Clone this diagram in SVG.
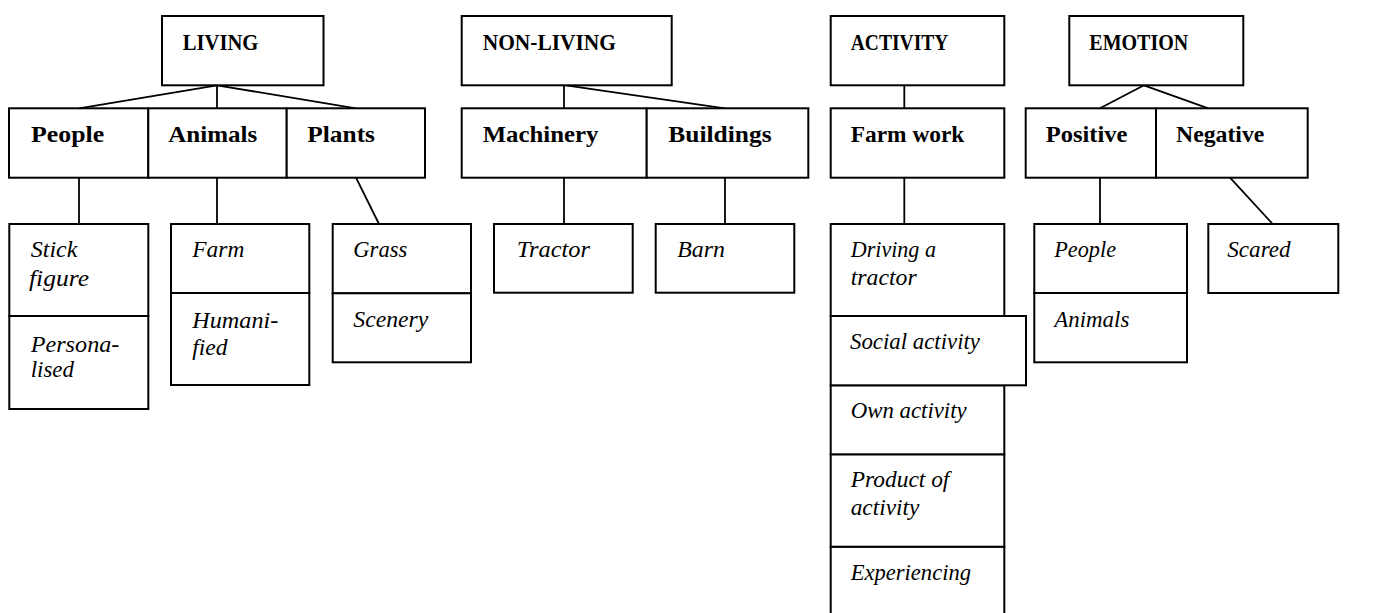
<svg xmlns="http://www.w3.org/2000/svg" width="1376" height="613" viewBox="0 0 1376 613">
<style>
rect{fill:#fff;stroke:#000;stroke-width:2}
.c line{stroke:#000;stroke-width:1.8}
text{font-family:"Liberation Serif","Times New Roman",serif;font-size:23.5px;fill:#000}
.b{font-weight:bold;font-size:23px}
.i{font-style:italic}
</style>
<rect x="0" y="0" width="1376" height="613" style="stroke:none"/>
<g class="c" id="connectors">
<line x1="217" y1="85.3" x2="79" y2="108.3"/>
<line x1="217" y1="85.3" x2="217" y2="108.3"/>
<line x1="217" y1="85.3" x2="356" y2="108.3"/>
<line x1="79" y1="177.7" x2="79" y2="224"/>
<line x1="217" y1="177.7" x2="217" y2="224"/>
<line x1="356" y1="177.7" x2="379" y2="224"/>
<line x1="564" y1="85.3" x2="564" y2="108.3"/>
<line x1="566" y1="85.3" x2="725" y2="108.3"/>
<line x1="564" y1="177.7" x2="564" y2="224"/>
<line x1="725" y1="177.7" x2="725" y2="224"/>
<line x1="904.3" y1="85.3" x2="904.3" y2="108.3"/>
<line x1="904.3" y1="177.7" x2="904.3" y2="224"/>
<line x1="1144" y1="85.3" x2="1100" y2="108.3"/>
<line x1="1144" y1="85.3" x2="1208.3" y2="108.3"/>
<line x1="1100" y1="177.7" x2="1100" y2="224"/>
<line x1="1230" y1="177.7" x2="1272.7" y2="224"/>
</g>
<g id="living"><rect x="162" y="16" width="161.5" height="69.3"/><text class="b" x="182.7" y="50" textLength="75.7" lengthAdjust="spacingAndGlyphs">LIVING</text></g>
<g id="people"><rect x="9" y="108.3" width="139.3" height="69.4"/><text class="b" x="31" y="141.7" textLength="73.3" lengthAdjust="spacingAndGlyphs">People</text></g>
<g id="animals"><rect x="148.3" y="108.3" width="138.4" height="69.4"/><text class="b" x="168.3" y="141.7" textLength="89" lengthAdjust="spacingAndGlyphs">Animals</text></g>
<g id="plants"><rect x="286.7" y="108.3" width="138.3" height="69.4"/><text class="b" x="307.3" y="141.7" textLength="67.7" lengthAdjust="spacingAndGlyphs">Plants</text></g>
<g id="stick"><rect x="9.3" y="224" width="139" height="92"/><text class="i" x="30.7" y="257.3" textLength="46.7" lengthAdjust="spacingAndGlyphs">Stick</text><text class="i" x="29" y="286" textLength="60" lengthAdjust="spacingAndGlyphs">figure</text></g>
<g id="personalised"><rect x="9.3" y="316" width="139" height="93"/><text class="i" x="30.7" y="351.7" textLength="88.7" lengthAdjust="spacingAndGlyphs">Persona-</text><text class="i" x="30.7" y="376.7" textLength="43.3" lengthAdjust="spacingAndGlyphs">lised</text></g>
<g id="farm"><rect x="171" y="224" width="138.3" height="69"/><text class="i" x="192.3" y="256.7" textLength="52" lengthAdjust="spacingAndGlyphs">Farm</text></g>
<g id="humanified"><rect x="171" y="293" width="138.3" height="92"/><text class="i" x="192.3" y="328.3" textLength="86" lengthAdjust="spacingAndGlyphs">Humani-</text><text class="i" x="192.3" y="355" textLength="35.3" lengthAdjust="spacingAndGlyphs">fied</text></g>
<g id="grass"><rect x="332.7" y="224" width="138.3" height="69.3"/><text class="i" x="353.3" y="256.7" textLength="54" lengthAdjust="spacingAndGlyphs">Grass</text></g>
<g id="scenery"><rect x="332.7" y="293.3" width="138.3" height="69"/><text class="i" x="353.3" y="326.7" textLength="75" lengthAdjust="spacingAndGlyphs">Scenery</text></g>
<g id="nonliving"><rect x="461.7" y="16" width="210" height="69.3"/><text class="b" x="482.7" y="50" textLength="133.3" lengthAdjust="spacingAndGlyphs">NON-LIVING</text></g>
<g id="machinery"><rect x="461.7" y="108.3" width="185" height="69.4"/><text class="b" x="482.7" y="141.7" textLength="115.7" lengthAdjust="spacingAndGlyphs">Machinery</text></g>
<g id="buildings"><rect x="646.7" y="108.3" width="161.6" height="69.4"/><text class="b" x="668.3" y="141.7" textLength="103.3" lengthAdjust="spacingAndGlyphs">Buildings</text></g>
<g id="tractor"><rect x="494" y="224" width="138.7" height="68.7"/><text class="i" x="516.7" y="256.7" textLength="73.3" lengthAdjust="spacingAndGlyphs">Tractor</text></g>
<g id="barn"><rect x="655.7" y="224" width="138.6" height="68.7"/><text class="i" x="677.3" y="256.7" textLength="47.7" lengthAdjust="spacingAndGlyphs">Barn</text></g>
<g id="activity"><rect x="830.7" y="16" width="173.6" height="69.3"/><text class="b" x="850.7" y="50" textLength="97.7" lengthAdjust="spacingAndGlyphs">ACTIVITY</text></g>
<g id="farmwork"><rect x="830.7" y="108.3" width="173.6" height="69.4"/><text class="b" x="850.7" y="141.7" textLength="113.7" lengthAdjust="spacingAndGlyphs">Farm work</text></g>
<g id="experiencing"><rect x="830.7" y="546.7" width="173.6" height="80"/><text class="i" x="850.7" y="580" textLength="120.3" lengthAdjust="spacingAndGlyphs">Experiencing</text></g>
<g id="product"><rect x="830.7" y="454.3" width="173.6" height="92.4"/><text class="i" x="850.7" y="487.3" textLength="98.7" lengthAdjust="spacingAndGlyphs">Product of</text><text class="i" x="850.7" y="515" textLength="68.7" lengthAdjust="spacingAndGlyphs">activity</text></g>
<g id="own"><rect x="830.7" y="385.3" width="173.6" height="69"/><text class="i" x="850.7" y="418.3" textLength="116" lengthAdjust="spacingAndGlyphs">Own activity</text></g>
<g id="driving"><rect x="830.7" y="224" width="173.6" height="92"/><text class="i" x="850.7" y="256.7" textLength="85.3" lengthAdjust="spacingAndGlyphs">Driving a</text><text class="i" x="850.7" y="285" textLength="66" lengthAdjust="spacingAndGlyphs">tractor</text></g>
<g id="social"><rect x="830.7" y="316" width="195.3" height="69.3"/><text class="i" x="850" y="349.3" textLength="130" lengthAdjust="spacingAndGlyphs">Social activity</text></g>
<g id="emotion"><rect x="1069.3" y="16" width="174" height="69.3"/><text class="b" x="1089.3" y="50" textLength="99" lengthAdjust="spacingAndGlyphs">EMOTION</text></g>
<g id="positive"><rect x="1025.7" y="108.3" width="130.3" height="69.4"/><text class="b" x="1045.7" y="141.7" textLength="81.7" lengthAdjust="spacingAndGlyphs">Positive</text></g>
<g id="negative"><rect x="1156" y="108.3" width="151.7" height="69.4"/><text class="b" x="1176" y="141.7" textLength="88.3" lengthAdjust="spacingAndGlyphs">Negative</text></g>
<g id="epeople"><rect x="1034.3" y="224" width="152.7" height="69"/><text class="i" x="1054.3" y="256.7" textLength="61.7" lengthAdjust="spacingAndGlyphs">People</text></g>
<g id="eanimals"><rect x="1034.3" y="293" width="152.7" height="69.3"/><text class="i" x="1054.3" y="326.7" textLength="75" lengthAdjust="spacingAndGlyphs">Animals</text></g>
<g id="scared"><rect x="1208.3" y="224" width="130" height="69"/><text class="i" x="1227.3" y="256.7" textLength="63.3" lengthAdjust="spacingAndGlyphs">Scared</text></g>
</svg>
